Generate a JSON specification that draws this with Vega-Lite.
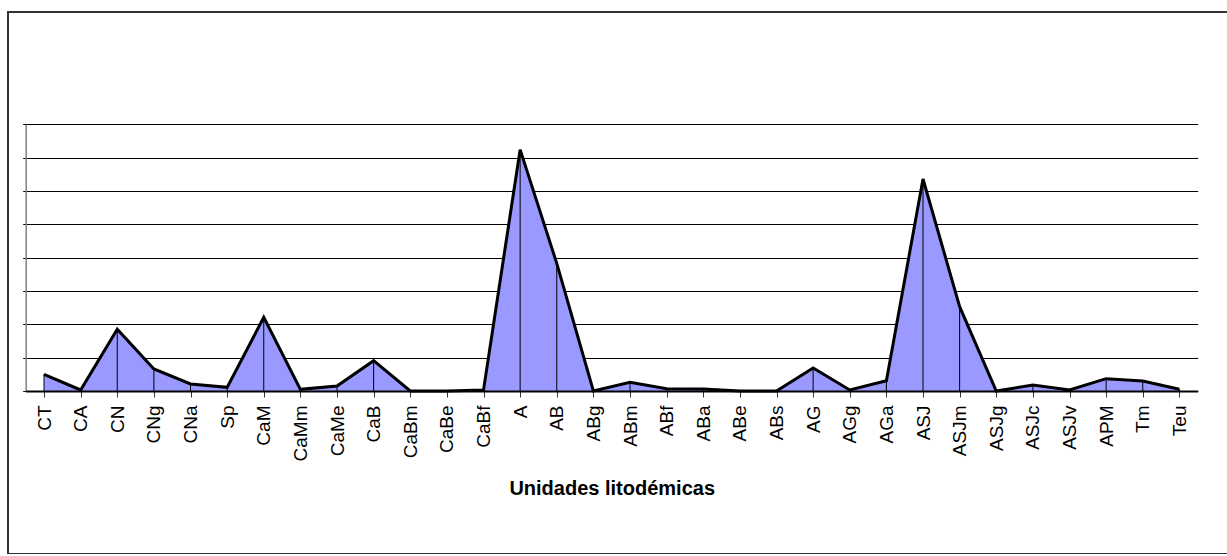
{
  "$schema": "https://vega.github.io/schema/vega-lite/v6.json",
  "width": 1220,
  "height": 542,
  "autosize": {"type": "none"},
  "padding": {"left": 8, "top": 12, "right": 0, "bottom": 0},
  "background": "white",
  "config": {
    "view": {"stroke": "#333333", "strokeWidth": 2},
    "font": "Liberation Sans"
  },
  "data": {
    "values": [
      {"unit": "CT", "v": 0.50},
      {"unit": "CA", "v": 0.03},
      {"unit": "CN", "v": 1.85},
      {"unit": "CNg", "v": 0.66},
      {"unit": "CNa", "v": 0.21},
      {"unit": "Sp", "v": 0.11},
      {"unit": "CaM", "v": 2.21},
      {"unit": "CaMm", "v": 0.05},
      {"unit": "CaMe", "v": 0.15},
      {"unit": "CaB", "v": 0.91},
      {"unit": "CaBm", "v": 0},
      {"unit": "CaBe", "v": 0},
      {"unit": "CaBf", "v": 0.03},
      {"unit": "A", "v": 7.24},
      {"unit": "AB", "v": 3.83},
      {"unit": "ABg", "v": 0},
      {"unit": "ABm", "v": 0.26},
      {"unit": "ABf", "v": 0.07},
      {"unit": "ABa", "v": 0.06},
      {"unit": "ABe", "v": 0},
      {"unit": "ABs", "v": 0},
      {"unit": "AG", "v": 0.69},
      {"unit": "AGg", "v": 0.03},
      {"unit": "AGa", "v": 0.31},
      {"unit": "ASJ", "v": 6.36},
      {"unit": "ASJm", "v": 2.53},
      {"unit": "ASJg", "v": 0},
      {"unit": "ASJc", "v": 0.18},
      {"unit": "ASJv", "v": 0.03},
      {"unit": "APM", "v": 0.37},
      {"unit": "Tm", "v": 0.30},
      {"unit": "Teu", "v": 0.05}
    ]
  },
  "encoding": {
    "x": {
      "field": "unit",
      "type": "ordinal",
      "sort": null,
      "scale": {"type": "point", "range": [17.7, 1189.7]},
      "axis": {
        "title": "Unidades litodémicas",
        "titleFont": "Liberation Sans",
        "titleFontSize": 20,
        "titleFontWeight": "bold",
        "titleColor": "black",
        "titlePadding": 18,
        "labelAngle": -90,
        "labelFont": "Liberation Sans",
        "labelFontSize": 19,
        "labelColor": "black",
        "labelPadding": 8,
        "labelOverlap": false,
        "tickSize": 6,
        "tickColor": "#333333",
        "tickWidth": 1,
        "domainColor": "black",
        "domainWidth": 2,
        "grid": false,
        "offset": -163,
        "zindex": 1
      }
    }
  },
  "layer": [
    {
      "mark": {"type": "area", "fill": "#9999FF", "opacity": 1},
      "encoding": {
        "y": {
          "field": "v",
          "type": "quantitative",
          "scale": {"domain": [0, 8], "range": [379, 112.3], "nice": false, "zero": true},
          "axis": {
            "title": null,
            "labels": false,
            "values": [0, 1, 2, 3, 4, 5, 6, 7, 8],
            "grid": true,
            "gridColor": "black",
            "gridWidth": 1,
            "gridOpacity": 1,
            "domainColor": "#808080",
            "domainWidth": 1.5,
            "tickColor": "black",
            "tickSize": 3,
            "offset": -17.7
          }
        }
      }
    },
    {
      "mark": {"type": "rule", "color": "black", "strokeWidth": 1},
      "encoding": {
        "y": {"field": "v", "type": "quantitative"},
        "y2": {"datum": 0}
      }
    },
    {
      "mark": {"type": "line", "color": "black", "strokeWidth": 3},
      "encoding": {
        "y": {"field": "v", "type": "quantitative"}
      }
    }
  ]
}
